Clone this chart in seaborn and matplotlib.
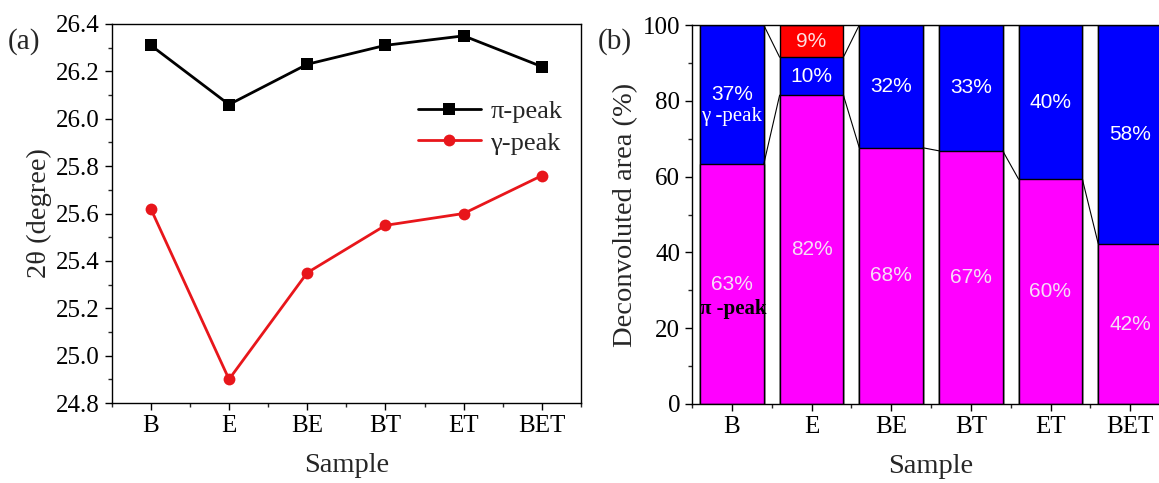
import numpy as np
import pandas as pd
import matplotlib
matplotlib.use("Agg")
import matplotlib.pyplot as plt
import seaborn as sns
from matplotlib.ticker import MultipleLocator
from matplotlib.lines import Line2D

# ---------------- data ----------------
samples = ["B", "E", "BE", "BT", "ET", "BET"]
pi_peak_pos = [26.31, 26.06, 26.23, 26.31, 26.35, 26.22]
gamma_peak_pos = [25.62, 24.90, 25.35, 25.55, 25.60, 25.76]

pi_area = [63.2, 81.5, 67.6, 66.8, 59.3, 42.2]
gamma_area = [36.8, 10.0, 32.4, 33.2, 40.7, 57.8]
other_area = [0.0, 8.5, 0.0, 0.0, 0.0, 0.0]
pi_labels = ["63%", "82%", "68%", "67%", "60%", "42%"]
gamma_labels = ["37%", "10%", "32%", "33%", "40%", "58%"]
other_labels = ["", "9%", "", "", "", ""]

# ---------------- style ----------------
sns.set_style("ticks")
plt.rcParams["font.family"] = ["Liberation Serif", "DejaVu Serif"]
plt.rcParams["axes.linewidth"] = 1.0
plt.rcParams["xtick.direction"] = "out"
plt.rcParams["ytick.direction"] = "out"

fig = plt.figure(figsize=(11.59, 4.83), dpi=100)
W, H = 1159, 483
ax1 = fig.add_axes([111.7 / W, (H - 403) / H, (581 - 111.7) / W, (403 - 24) / H])
ax2 = fig.add_axes([692 / W, (H - 404) / H, (1170 - 692) / W, (404 - 25) / H])

# ---------------- panel (a) ----------------
df_a = pd.DataFrame({
    "Sample": samples * 2,
    "pos": pi_peak_pos + gamma_peak_pos,
    "peak": ["π-peak"] * len(samples) + ["γ-peak"] * len(samples),
})
df_a["x"] = np.tile(np.arange(len(samples)), 2)
sns.lineplot(data=df_a, x="x", y="pos", hue="peak", style="peak",
             palette={"π-peak": "black", "γ-peak": "#e8161b"},
             markers={"π-peak": "s", "γ-peak": "o"}, dashes=False,
             markersize=8.5, markeredgewidth=0, linewidth=2, ax=ax1, legend=False)
ax1.set_xlim(-0.5, 5.5)
ax1.set_ylim(24.8, 26.4)
ax1.set_xticks(range(len(samples)))
ax1.set_xticklabels(samples)
ax1.xaxis.set_minor_locator(MultipleLocator(0.5))
ax1.yaxis.set_major_locator(MultipleLocator(0.2))
ax1.yaxis.set_minor_locator(MultipleLocator(0.1))
ax1.yaxis.set_major_formatter(matplotlib.ticker.FormatStrFormatter("%.1f"))
ax1.tick_params(which="major", length=5, width=1, labelsize=18, colors="black")
ax1.tick_params(which="minor", length=3, width=1)
ax1.set_xlabel("Sample", fontsize=20.5, labelpad=12)
ax1.set_ylabel("2θ (degree)", fontsize=20.5, labelpad=3)
handles = [
    Line2D([], [], color="black", marker="s", markersize=8.5, lw=2, markeredgewidth=0),
    Line2D([], [], color="#e8161b", marker="o", markersize=8.5, lw=2, markeredgewidth=0),
]
ax1.legend(handles, ["π-peak", "γ-peak"], loc="upper left", bbox_to_anchor=(0.652, 0.80),
           frameon=False, fontsize=19, handlelength=2.4, handletextpad=0.35,
           labelspacing=0.3, borderaxespad=0, borderpad=0)
fig.text(8 / W, 1 - 42 / H, "(a)", fontsize=21, ha="left", va="center")

# ---------------- panel (b) ----------------
x = np.arange(len(samples))
pi_arr = np.array(pi_area)
pg_arr = pi_arr + np.array(gamma_area)
tot_arr = pg_arr + np.array(other_area)

df_b = pd.DataFrame({"Sample": samples, "total": tot_arr, "pg": pg_arr, "pi": pi_arr})
for col, colr in [("total", "#ff0000"), ("pg", "#0000ff"), ("pi", "#ff00ff")]:
    sns.barplot(data=df_b, x="Sample", y=col, order=samples, color=colr, saturation=1,
                width=0.8, edgecolor="black", linewidth=1.0, ax=ax2)

# connecting lines between stacked levels
hw = 0.4
for level in [pi_arr, pg_arr]:
    for i in range(len(samples) - 1):
        ax2.plot([x[i] + hw, x[i + 1] - hw], [level[i], level[i + 1]],
                 color="black", lw=0.8, zorder=5)

sans = ["Liberation Sans", "DejaVu Sans"]
fs_pct = 15
for i in range(len(samples)):
    ax2.text(x[i], pi_arr[i] / 2, pi_labels[i], ha="center", va="center",
             color="#f7dcf7", fontsize=fs_pct, family=sans)
    ax2.text(x[i], (pi_arr[i] + pg_arr[i]) / 2, gamma_labels[i], ha="center", va="center",
             color="white", fontsize=fs_pct, family=sans)
    if other_labels[i]:
        ax2.text(x[i], (pg_arr[i] + tot_arr[i]) / 2, other_labels[i], ha="center",
                 va="center", color="#fde0e0", fontsize=fs_pct, family=sans)
ax2.text(x[0], 75.8, "γ -peak", ha="center", va="center", color="white", fontsize=15)
ax2.text(x[0] + 0.02, 25.1, "π -peak", ha="center", va="center", color="black",
         fontsize=15, fontweight="bold")

ax2.set_xlim(-0.5, 5.5)
ax2.set_ylim(0, 100)
ax2.yaxis.set_major_locator(MultipleLocator(20))
ax2.yaxis.set_minor_locator(MultipleLocator(10))
ax2.xaxis.set_minor_locator(MultipleLocator(0.5))
ax2.tick_params(which="major", length=5, width=1, labelsize=18, colors="black")
ax2.tick_params(which="minor", length=3, width=1)
ax2.set_xlabel("Sample", fontsize=20.5, labelpad=12)
ax2.set_ylabel("Deconvoluted area (%)", fontsize=20.5, labelpad=3)
fig.text(598 / W, 1 - 42 / H, "(b)", fontsize=21, ha="left", va="center")

for ax in (ax1, ax2):
    for s in ax.spines.values():
        s.set_visible(True)
        s.set_color("black")
        s.set_linewidth(1.0)

fig.savefig("out.png", dpi=100)
